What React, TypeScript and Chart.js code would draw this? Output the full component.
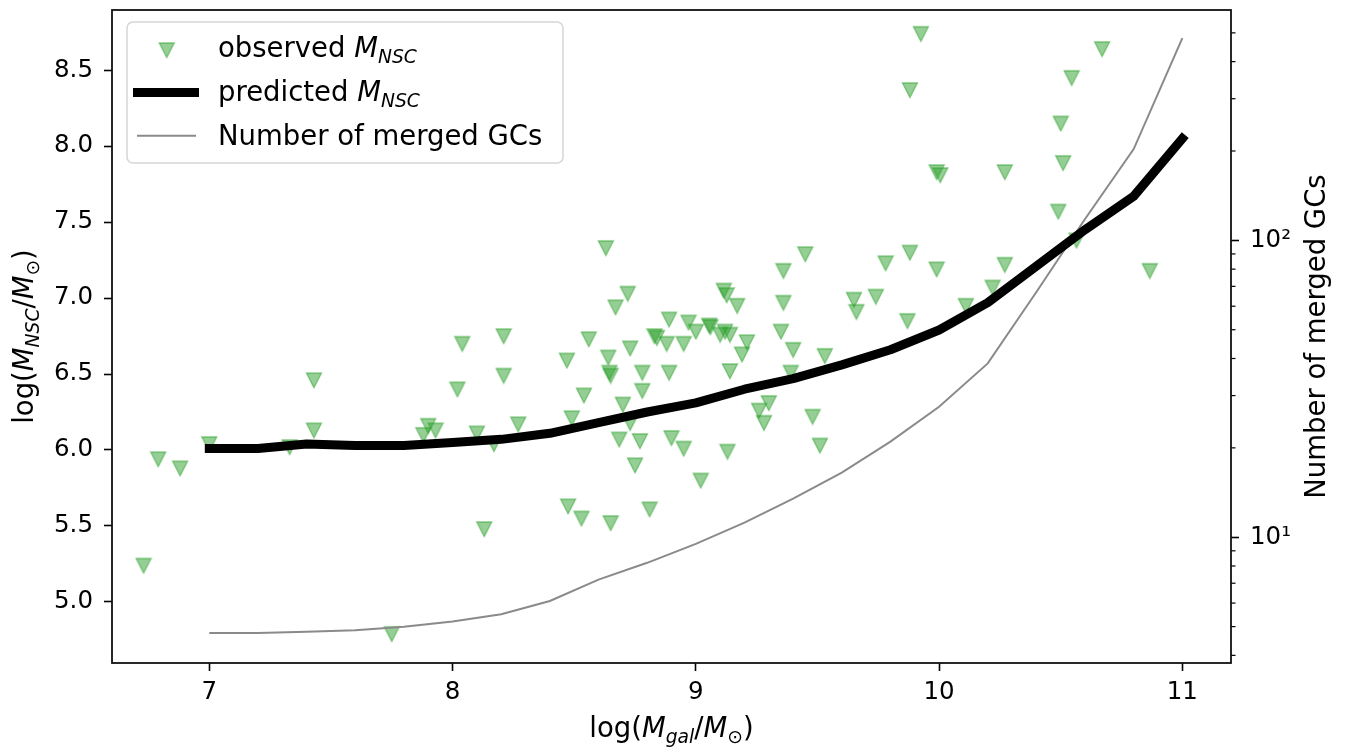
import React, { useEffect, useRef } from "react";
import { Chart, registerables } from "chart.js";

Chart.register(...registerables);

// ---------- data ----------
const obsX = [
  6.73, 6.79, 6.88, 7.0, 7.33, 7.43, 7.43, 7.75, 7.88, 7.9, 7.93, 8.04, 8.02, 8.1, 8.17, 8.13, 8.21, 8.21, 8.27,
  8.56, 8.47, 8.54, 8.49, 8.475, 8.53, 8.63, 8.72, 8.67, 8.64, 8.645, 8.65, 8.73, 8.78, 8.78, 8.7, 8.73, 8.685,
  8.77, 8.75, 8.65, 8.81, 8.89, 8.83, 8.84, 8.88, 8.95, 8.97, 9.0, 9.055, 9.06, 9.1, 9.14, 9.12, 9.115, 9.127,
  9.17, 9.21, 9.19, 8.89, 9.14, 8.9, 8.95, 9.13, 9.02, 9.36, 9.45, 9.36, 9.35, 9.4, 9.53, 9.39, 9.26, 9.3, 9.28,
  9.48, 9.51, 9.65, 9.66, 9.74, 9.78, 9.925, 9.88, 9.99, 10.005, 10.27, 10.67, 10.545, 10.5, 10.51, 10.49,
  10.565, 9.88, 9.99, 10.27, 10.22, 10.11, 9.87, 10.866,
];
const obsY = [
  5.24, 5.94, 5.88, 6.04, 6.02, 6.46, 6.13, 4.79, 6.1, 6.16, 6.13, 6.7, 6.4, 6.11, 6.04, 5.48, 6.75, 6.49, 6.17,
  6.73, 6.59, 6.36, 6.21, 5.63, 5.55, 7.33, 7.03, 6.94, 6.61, 6.51, 6.49, 6.67, 6.51, 6.39, 6.3, 6.18, 6.07,
  6.06, 5.9, 5.52, 5.61, 6.86, 6.75, 6.74, 6.7, 6.7, 6.84, 6.78, 6.82, 6.81, 6.76, 6.76, 6.78, 7.05, 7.02,
  6.95, 6.71, 6.63, 6.51, 6.52, 6.08, 6.01, 5.99, 5.8, 7.18, 7.29, 6.97, 6.78, 6.66, 6.62, 6.51, 6.26, 6.31, 6.18,
  6.22, 6.03, 6.99, 6.91, 7.01, 7.23, 8.74, 8.37, 7.83, 7.81, 7.83, 8.64, 8.45, 8.15, 7.89, 7.57,
  7.38, 7.3, 7.19, 7.22, 7.07, 6.95, 6.85, 7.18,
];
const gridX = [7.0, 7.2, 7.4, 7.6, 7.8, 8.0, 8.2, 8.4, 8.6, 8.8, 9.0, 9.2, 9.4, 9.6, 9.8, 10.0, 10.2, 10.4, 10.6, 10.8, 11.0];
const predY = [6.01, 6.01, 6.04, 6.03, 6.03, 6.05, 6.07, 6.11, 6.18, 6.25, 6.31, 6.4, 6.47, 6.56, 6.66, 6.79, 6.97, 7.21, 7.45, 7.67, 8.05];
const mergedGC = [4.76, 4.76, 4.8, 4.86, 4.99, 5.2, 5.5, 6.1, 7.2, 8.2, 9.5, 11.2, 13.5, 16.5, 21, 27.5, 38.5, 67, 118, 203, 480];

const xTicks = [7, 8, 9, 10, 11];
const yTicks = [5.0, 5.5, 6.0, 6.5, 7.0, 7.5, 8.0, 8.5];
const gcMajor = [10, 100];
const gcMajorLabels = ["10\u00B9", "10\u00B2"];
const gcMinor = [4, 5, 6, 7, 8, 9, 20, 30, 40, 50, 60, 70, 80, 90, 200, 300, 400, 500];

const FONT = "'DejaVu Sans', sans-serif";

type Part = { t: string; it?: boolean; sub?: boolean };

const obsLabel: Part[] = [{ t: "observed " }, { t: "M", it: true }, { t: "NSC", it: true, sub: true }];
const predLabel: Part[] = [{ t: "predicted " }, { t: "M", it: true }, { t: "NSC", it: true, sub: true }];
const gcLabel: Part[] = [{ t: "Number of merged GCs" }];
const xTitle: Part[] = [
  { t: "log(" }, { t: "M", it: true }, { t: "gal", it: true, sub: true }, { t: "/" }, { t: "M", it: true }, { t: "\u2299", sub: true }, { t: ")" },
];
const yTitle: Part[] = [
  { t: "log(" }, { t: "M", it: true }, { t: "NSC", it: true, sub: true }, { t: "/" }, { t: "M", it: true }, { t: "\u2299", sub: true }, { t: ")" },
];
const y2Title: Part[] = [{ t: "Number of merged GCs" }];

function fontFor(p: Part, size: number) {
  const s = p.sub ? size * 0.68 : size;
  return `${p.it ? "italic " : ""}${s}px ${FONT}`;
}

function drawRich(ctx: CanvasRenderingContext2D, parts: Part[], x: number, y: number, size: number, align: "left" | "center") {
  let total = 0;
  const widths = parts.map((p) => {
    ctx.font = fontFor(p, size);
    const w = ctx.measureText(p.t).width;
    total += w;
    return w;
  });
  let cx = align === "center" ? x - total / 2 : x;
  ctx.textAlign = "left";
  ctx.textBaseline = "alphabetic";
  parts.forEach((p, i) => {
    ctx.font = fontFor(p, size);
    ctx.fillText(p.t, cx, y + (p.sub ? size * 0.2 : 0));
    cx += widths[i];
  });
}

function makeMarker(): HTMLCanvasElement {
  const c = document.createElement("canvas");
  c.width = 18;
  c.height = 18;
  const g = c.getContext("2d")!;
  g.beginPath();
  g.moveTo(1.5, 2);
  g.lineTo(16.5, 2);
  g.lineTo(9, 16.5);
  g.closePath();
  g.fillStyle = "rgba(44,160,44,0.5)";
  g.fill();
  g.strokeStyle = "rgba(44,160,44,0.55)";
  g.lineWidth = 1.3;
  g.stroke();
  return c;
}

function zeroPad(s: any) {
  s.paddingTop = 0;
  s.paddingBottom = 0;
  s.paddingLeft = 0;
  s.paddingRight = 0;
}

export default function App() {
  const ref = useRef<HTMLCanvasElement | null>(null);

  useEffect(() => {
    if (!ref.current) return;
    const marker = makeMarker();

    const decor = {
      id: "decor",
      afterDraw(chart: any) {
        const ctx: CanvasRenderingContext2D = chart.ctx;
        const a = chart.chartArea;
        const y2 = chart.scales.y2;
        ctx.save();
        // minor ticks on the log axis
        ctx.strokeStyle = "#000";
        ctx.lineWidth = 1.2;
        gcMinor.forEach((v) => {
          const py = y2.getPixelForValue(v);
          ctx.beginPath();
          ctx.moveTo(a.right, py);
          ctx.lineTo(a.right + 4.5, py);
          ctx.stroke();
        });
        // frame
        ctx.lineWidth = 1.8;
        ctx.strokeStyle = "#111";
        ctx.strokeRect(a.left, a.top, a.right - a.left, a.bottom - a.top);

        // axis titles
        ctx.fillStyle = "#000";
        const midY = (a.top + a.bottom) / 2;
        const midX = (a.left + a.right) / 2;
        drawRich(ctx, xTitle, midX, 737, 27.5, "center");
        ctx.save();
        ctx.translate(33, midY);
        ctx.rotate(-Math.PI / 2);
        drawRich(ctx, yTitle, 0, 0, 27.5, "center");
        ctx.restore();
        ctx.save();
        ctx.translate(1325, midY);
        ctx.rotate(-Math.PI / 2);
        drawRich(ctx, y2Title, 0, 0, 27.5, "center");
        ctx.restore();

        // legend
        const lx = 127, ly = 22, lw = 436, lh = 141, r = 6;
        ctx.beginPath();
        ctx.moveTo(lx + r, ly);
        ctx.arcTo(lx + lw, ly, lx + lw, ly + lh, r);
        ctx.arcTo(lx + lw, ly + lh, lx, ly + lh, r);
        ctx.arcTo(lx, ly + lh, lx, ly, r);
        ctx.arcTo(lx, ly, lx + lw, ly, r);
        ctx.closePath();
        ctx.fillStyle = "rgba(255,255,255,0.8)";
        ctx.fill();
        ctx.strokeStyle = "#d6d6d6";
        ctx.lineWidth = 1.5;
        ctx.stroke();

        ctx.drawImage(marker, 166.7 - 9, 50 - 9);
        ctx.lineCap = "square";
        ctx.strokeStyle = "#000";
        ctx.lineWidth = 9;
        ctx.beginPath();
        ctx.moveTo(137.5, 92.5);
        ctx.lineTo(194.5, 92.5);
        ctx.stroke();
        ctx.lineCap = "butt";
        ctx.strokeStyle = "#8a8a8a";
        ctx.lineWidth = 2;
        ctx.beginPath();
        ctx.moveTo(137, 135.7);
        ctx.lineTo(196, 135.7);
        ctx.stroke();

        ctx.fillStyle = "#000";
        drawRich(ctx, obsLabel, 218, 57, 27.5, "left");
        drawRich(ctx, predLabel, 218, 101, 27.5, "left");
        drawRich(ctx, gcLabel, 218, 145, 27.5, "left");
        ctx.restore();
      },
    };

    Chart.defaults.font.family = FONT;
    Chart.defaults.color = "#000";

    const chart = new Chart(ref.current, {
      type: "line",
      data: {
        datasets: [
          {
            label: "predicted M_NSC",
            data: gridX.map((x, i) => ({ x, y: predY[i] })),
            borderColor: "#000",
            borderWidth: 9,
            borderCapStyle: "square",
            borderJoinStyle: "round",
            pointRadius: 0,
            tension: 0,
            yAxisID: "y",
            order: 0,
          },
          {
            label: "Number of merged GCs",
            data: gridX.map((x, i) => ({ x, y: mergedGC[i] })),
            borderColor: "#8a8a8a",
            borderWidth: 2,
            pointRadius: 0,
            tension: 0,
            yAxisID: "y2",
            order: 1,
          },
          {
            label: "observed M_NSC",
            data: obsX.map((x, i) => ({ x, y: obsY[i] })),
            showLine: false,
            pointStyle: marker,
            pointRadius: 9,
            yAxisID: "y",
            order: 2,
          },
        ],
      } as any,
      options: {
        responsive: false,
        animation: false,
        devicePixelRatio: 1,
        layout: { padding: { top: 8, left: 0, right: 0, bottom: 0 } },
        plugins: { legend: { display: false }, tooltip: { enabled: false } },
        scales: {
          x: {
            type: "linear",
            min: 6.6,
            max: 11.2,
            afterBuildTicks: (s: any) => {
              s.ticks = xTicks.map((v) => ({ value: v }));
            },
            afterFit: (s: any) => {
              s.height = 89;
              zeroPad(s);
            },
            ticks: { font: { size: 24.5 }, color: "#000", padding: 7, maxRotation: 0, autoSkip: false, callback: (v: any) => String(v) },
            grid: { drawOnChartArea: false, tickLength: 8, tickColor: "#000", tickWidth: 1.6 },
            border: { display: false },
          },
          y: {
            type: "linear",
            position: "left",
            min: 4.598,
            max: 8.896,
            afterBuildTicks: (s: any) => {
              s.ticks = yTicks.map((v) => ({ value: v }));
            },
            afterFit: (s: any) => {
              s.width = 112;
              zeroPad(s);
            },
            ticks: { font: { size: 24.5 }, color: "#000", padding: 11, autoSkip: false, callback: (v: any) => Number(v).toFixed(1) },
            grid: { drawOnChartArea: false, tickLength: 8, tickColor: "#000", tickWidth: 1.6 },
            border: { display: false },
          },
          y2: {
            type: "logarithmic",
            position: "right",
            min: 3.77,
            max: 597,
            afterBuildTicks: (s: any) => {
              s.ticks = gcMajor.map((v) => ({ value: v }));
            },
            afterFit: (s: any) => {
              s.width = 120;
              zeroPad(s);
            },
            ticks: {
              font: { size: 24.5 },
              color: "#000",
              padding: 11,
              autoSkip: false,
              callback: (v: any) => {
                const i = gcMajor.indexOf(Number(v));
                return i >= 0 ? gcMajorLabels[i] : "";
              },
            },
            grid: { drawOnChartArea: false, tickLength: 8, tickColor: "#000", tickWidth: 1.6 },
            border: { display: false },
          },
        },
      } as any,
      plugins: [decor],
    });
    return () => chart.destroy();
  }, []);

  return (
    <div style={{ position: "fixed", left: 0, top: 0, width: 1351, height: 752, background: "#fff" }}>
      <canvas ref={ref} width={1351} height={752} style={{ display: "block" }} />
    </div>
  );
}
